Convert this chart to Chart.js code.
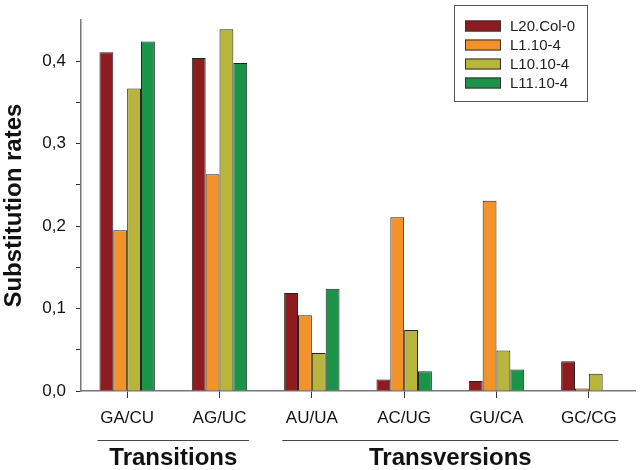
<!DOCTYPE html>
<html>
<head>
<meta charset="utf-8">
<script src="https://cdn.jsdelivr.net/npm/chart.js@4"></script>
<style>
  html, body { margin: 0; padding: 0; background: #fff; }
  #wrap { width: 640px; height: 470px; }
</style>
</head>
<body>
<div id="wrap"><canvas id="chart"></canvas></div>
<script>
// data
const categories = ['GA/CU', 'AG/UC', 'AU/UA', 'AC/UG', 'GU/CA', 'GC/CG'];
const seriesNames = ['L20.Col-0', 'L1.10-4', 'L10.10-4', 'L11.10-4'];
const l20Col0 = [0.411, 0.404, 0.119, 0.014, 0.012, 0.036];
const l1_10_4 = [0.195, 0.263, 0.092, 0.211, 0.231, 0.003];
const l10_10_4 = [0.367, 0.439, 0.046, 0.074, 0.049, 0.021];
const l11_10_4 = [0.424, 0.398, 0.124, 0.024, 0.026, null];
const seriesColors = ['#8e1b1f', '#f2922a', '#b7b53c', '#1b944a'];
const groupLabels = ['Transitions', 'Transversions'];
const groupFirst = [0, 2];
const groupLast = [1, 5];

const FONT = '"Liberation Sans", Arial, sans-serif';
const allSeries = [l20Col0, l1_10_4, l10_10_4, l11_10_4];

const datasets = allSeries.map((vals, i) => ({
  label: seriesNames[i],
  data: vals,
  backgroundColor: seriesColors[i],
  borderColor: '#222',
  borderWidth: 1,
  categoryPercentage: 0.6,
  barPercentage: 1.0
}));

// boxed legend in the top right corner
const boxLegend = {
  id: 'boxLegend',
  afterDraw(chart) {
    const c = chart.ctx;
    c.save();
    c.strokeStyle = '#555';
    c.lineWidth = 1;
    c.strokeRect(454.5, 5.5, 133, 96);
    c.font = '15px ' + FONT;
    c.textBaseline = 'middle';
    chart.data.datasets.forEach((ds, i) => {
      const y = 26 + i * 19;
      c.fillStyle = ds.backgroundColor;
      c.fillRect(465, y - 5.5, 36, 11);
      c.strokeStyle = '#3a3030';
      c.strokeRect(465.5, y - 5, 35, 10);
      c.fillStyle = '#222';
      c.fillText(ds.label, 510, y + 1);
    });
    c.restore();
  }
};

// group brackets under the category labels
const groupAxis = {
  id: 'groupAxis',
  afterDraw(chart) {
    const x = chart.scales.x;
    const half = (x.getPixelForValue(1) - x.getPixelForValue(0)) * 0.32;
    const c = chart.ctx;
    c.save();
    c.strokeStyle = '#444';
    c.lineWidth = 1;
    c.fillStyle = '#111';
    c.font = 'bold 24px ' + FONT;
    c.textAlign = 'center';
    c.textBaseline = 'middle';
    groupLabels.forEach((lab, i) => {
      const x0 = x.getPixelForValue(groupFirst[i]) - half;
      const x1 = x.getPixelForValue(groupLast[i]) + half;
      c.beginPath();
      c.moveTo(x0, 440.5);
      c.lineTo(x1, 440.5);
      c.stroke();
      c.fillText(lab, (x0 + x1) / 2, 458);
    });
    c.restore();
  }
};

new Chart(document.getElementById('chart'), {
  type: 'bar',
  data: { labels: categories, datasets: datasets },
  plugins: [boxLegend, groupAxis],
  options: {
    responsive: true,
    maintainAspectRatio: false,
    animation: false,
    layout: { padding: { left: 0, right: 5, top: 4, bottom: 0 } },
    plugins: {
      legend: { display: false },
      tooltip: { enabled: false }
    },
    scales: {
      x: {
        afterFit(scale) { scale.height = 79; },
        grid: {
          offset: false,
          drawOnChartArea: false,
          drawTicks: true,
          tickLength: 7,
          tickColor: '#333',
          tickWidth: 1
        },
        border: { color: '#777', width: 1.5 },
        ticks: {
          color: '#111',
          padding: 10,
          font: { family: FONT, size: 17 },
          maxRotation: 0
        }
      },
      y: {
        min: 0,
        max: 0.45,
        afterFit(scale) { scale.width = 81; },
        grid: {
          drawOnChartArea: false,
          drawTicks: true,
          tickLength: 5,
          tickWidth: 1,
          tickColor: ctx => (ctx.tick && ctx.tick.value > 0.449) ? 'rgba(0,0,0,0)' : '#333'
        },
        border: { color: '#777', width: 1.5 },
        ticks: {
          stepSize: 0.05,
          padding: 10,
          color: '#111',
          font: { family: FONT, size: 17 },
          callback: v => {
            const k = Math.round(v * 100);
            if (k % 10 !== 0) return '';
            return (k / 100).toFixed(1).replace('.', ',');
          }
        },
        title: {
          display: true,
          text: 'Substitution rates',
          color: '#111',
          padding: 0,
          font: { family: FONT, size: 24, weight: 'bold' }
        }
      }
    }
  }
});
</script>
</body>
</html>
